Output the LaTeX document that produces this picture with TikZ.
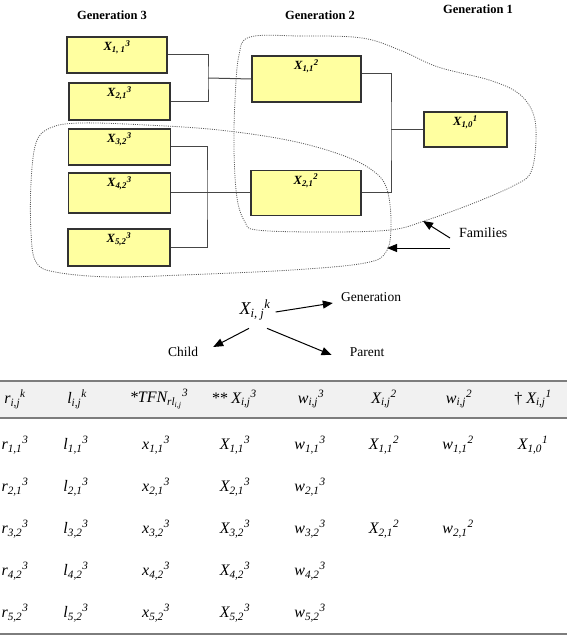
\documentclass[tikz,border=0pt]{standalone}
\usepackage{fontspec}
\setmainfont{Liberation Serif}
\usepackage{tikz}
\usetikzlibrary{arrows.meta}

\definecolor{boxfill}{RGB}{255,255,160}
\definecolor{boxline}{RGB}{50,50,50}
\definecolor{linkline}{RGB}{70,70,70}
\definecolor{ruleline}{RGB}{125,125,125}
\definecolor{bandfill}{RGB}{241,241,241}

\newcommand{\lbl}[3]{\textbf{\textit{#1\textsubscript{#2}\textsuperscript{#3}}}}
\newcommand{\ent}[3]{\textit{#1\textsubscript{#2}\textsuperscript{#3}}}

\begin{document}
\begin{tikzpicture}[
    x=1pt, y=-1pt,
    member/.style={rectangle, draw=boxline, fill=boxfill, line width=1.2pt, inner sep=0pt},
    tag/.style={anchor=north, inner sep=0pt, yshift=-4pt, font=\fontsize{12.5}{15}\selectfont},
    head/.style={inner sep=0pt, font=\fontsize{12.5}{15}\selectfont\bfseries},
    word/.style={inner sep=0pt, font=\fontsize{13.5}{16}\selectfont},
    cell/.style={inner sep=0pt, font=\fontsize{16}{19}\selectfont},
    link/.style={draw=linkline, line width=1pt},
    family/.style={draw=black!65, line width=0.8pt, dash pattern=on 1pt off 1.2pt},
    pointer/.style={draw=black, line width=1pt, -{Triangle[length=10pt,width=8pt]}},
    rule/.style={draw=ruleline, line width=1.6pt},
]
\useasboundingbox (0,0) rectangle (567,636);

% Generations
\node (gen3) [head] at (112,15) {Generation 3};
\node (gen2) [head] at (320,15) {Generation 2};
\node (gen1) [head] at (478,9) {Generation 1};

% Generation 3
\node (x311) [member, minimum width=100pt, minimum height=36pt, label={[tag, name=t311]north:\lbl{X}{1, 1}{3}}] at (117,55) {};
\node (x321) [member, minimum width=101pt, minimum height=37pt, label={[tag, name=t321]north:\lbl{X}{2,1}{3}}] at (119.5,101.5) {};
\node (x332) [member, minimum width=102pt, minimum height=36pt, label={[tag, name=t332]north:\lbl{X}{3,2}{3}}] at (119.5,147) {};
\node (x342) [member, minimum width=102pt, minimum height=40pt, label={[tag, name=t342]north:\lbl{X}{4,2}{3}}] at (119.5,193) {};
\node (x352) [member, minimum width=102pt, minimum height=37pt, label={[tag, name=t352]north:\lbl{X}{5,2}{3}}] at (119,247.5) {};

% Generation 2
\node (x211) [member, minimum width=109pt, minimum height=46pt, label={[tag, name=t211]north:\lbl{X}{1,1}{2}}] at (306.5,79) {};
\node (x221) [member, minimum width=110pt, minimum height=45pt, label={[tag, name=t221]north:\lbl{X}{2,1}{2}}] at (306,193) {};

% Generation 1
\node (x110) [member, minimum width=83pt, minimum height=35pt, label={[tag, name=t110]north:\lbl{X}{1,0}{1}}] at (465.5,129.5) {};

% Links
\coordinate (j3a) at (208,78);
\coordinate (j3b) at (207,193);
\coordinate (j2) at (391,129.5);
\draw [link] (x311.east) -| (j3a) |- (x321.east);
\draw [link] (j3a) -- (x211.west);
\draw [link] (x332.east) -| (j3b) |- (x352.east);
\draw [link] (x342.east) -- (x221.west);
\draw [link] ([yshift=5pt]x211.east) -| (j2) |- (x221.east);
\draw [link] (j2) -- (x110.west);

% Families
\draw [family] plot [smooth cycle, tension=0.6] coordinates {
    (250,37) (300,36) (362,38) (402,51) (438,67) (489,80) (518,93)
    (533,113) (536,140) (531,172) (515,185) (474,203) (427,220)
    (390,230) (320,232) (257,230) (245,222) (237,198) (234,150)
    (235,100) (239,55)};
\draw [family] plot [smooth cycle, tension=0.6] coordinates {
    (50,128) (80,123) (146,125) (219,130) (292,141) (347,157)
    (377,174) (388,193) (391,227) (386,252) (365,263) (292,270)
    (182,275) (110,277) (55,272) (36,262) (31,233) (31,183) (36,143)};
\node (fam) [word, anchor=west, font=\fontsize{14}{16}\selectfont] at (459,233) {Families};
\coordinate (famA) at (423,221);
\coordinate (famB) at (387,248);
\draw [pointer] ([shift={(-9,5)}]fam.west) -- (famA);
\draw [pointer] ([shift={(-9,15)}]fam.west) -- (famB);

% Notation
\node (xijk) [inner sep=0pt, font=\fontsize{18}{21}\selectfont] at (255,310) {\ent{X}{i, j}{k}};
\node (gen) [word] at (371,297) {Generation};
\node (child) [word] at (183,352) {Child};
\node (parent) [word] at (367,352) {Parent};
\draw [pointer] ([shift={(5,2)}]xijk.east) -- ([shift={(-8,6)}]gen.west);
\draw [pointer] ([shift={(-6,8)}]xijk.south) -- ([shift={(15,-5)}]child.east);
\draw [pointer] ([shift={(12,8)}]xijk.south) -- ([shift={(-18,3)}]parent.west);

% Table
\fill [bandfill] (0,381) rectangle (567,418);
\draw [rule] (0,381) -- (567,381);
\draw [rule] (0,418) -- (567,418);
\draw [rule] (0,634) -- (567,634);

\node (hr) [cell] at (15,399) {\ent{r}{i,j}{k}};
\node (hl) [cell] at (77,399) {\ent{l}{i,j}{k}};
\node (ht) [cell] at (159,399) {\ent{*TFN}{rl\textsubscript{i,j}}{3}};
\node (hx) [cell] at (234,399) {\ent{** X}{i,j}{3}};
\node (hw) [cell] at (311,399) {\ent{w}{i,j}{3}};
\node (hp) [cell] at (384,399) {\ent{X}{i,j}{2}};
\node (hq) [cell] at (459,399) {\ent{w}{i,j}{2}};
\node (hs) [cell] at (533,399) {\ent{\textup{†} X}{i,j}{1}};

\foreach \a/\b [count=\n] in {1/1, 2/1, 3/2, 4/2, 5/2} {
    \pgfmathsetmacro{\yy}{403+42*\n}
    \node (r\n) [cell] at (15,\yy) {\ent{r}{\a,\b}{3}};
    \node (l\n) [cell] at (76,\yy) {\ent{l}{\a,\b}{3}};
    \node (v\n) [cell] at (156,\yy) {\ent{x}{\a,\b}{3}};
    \node (m\n) [cell] at (235,\yy) {\ent{X}{\a,\b}{3}};
    \node (w\n) [cell] at (310,\yy) {\ent{w}{\a,\b}{3}};
}
\node (p1) [cell] at (384,445) {\ent{X}{1,1}{2}};
\node (q1) [cell] at (458,445) {\ent{w}{1,1}{2}};
\node (s1) [cell] at (533,445) {\ent{X}{1,0}{1}};
\node (p3) [cell] at (384,529) {\ent{X}{2,1}{2}};
\node (q3) [cell] at (458,529) {\ent{w}{2,1}{2}};

\end{tikzpicture}
\end{document}
